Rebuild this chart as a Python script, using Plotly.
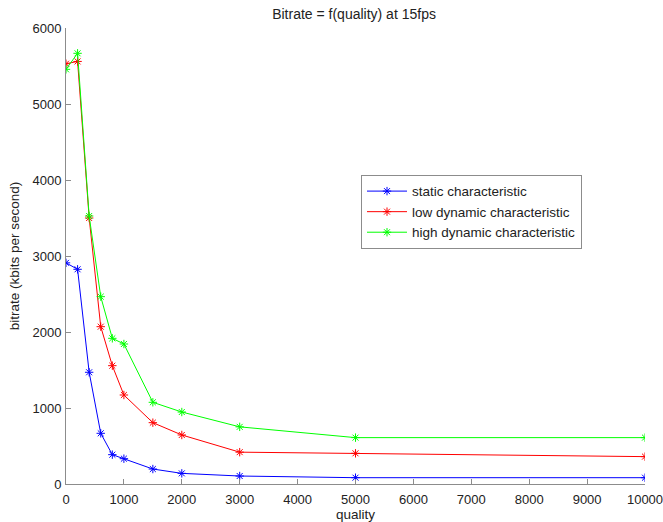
import plotly.graph_objects as go

# quality settings tested
quality = [0, 200, 400, 600, 800, 1000, 1500, 2000, 3000, 5000, 10000]

# measured bitrate (kbits per second) at 15 fps
static_rate = [2910, 2825, 1470, 667, 386, 333, 197, 140, 105, 83, 83]
low_dynamic_rate = [5530, 5560, 3500, 2070, 1557, 1171, 807, 645, 419, 404, 360]
high_dynamic_rate = [5456, 5667, 3526, 2465, 1917, 1842, 1075, 947, 752, 610, 610]

series = [
    ("static characteristic", static_rate, "#0000ff"),
    ("low dynamic characteristic", low_dynamic_rate, "#ff0000"),
    ("high dynamic characteristic", high_dynamic_rate, "#00ff00"),
]

x_ticks = list(range(0, 10001, 1000))
y_ticks = list(range(0, 6001, 1000))

fig = go.Figure()
for name, values, color in series:
    fig.add_trace(go.Scatter(
        x=quality, y=values, name=name, mode="lines+markers",
        line=dict(color=color, width=1),
        marker=dict(symbol="asterisk-open", size=7, color=color,
                    line=dict(color=color, width=1)),
    ))

font = "Liberation Sans, Arial, Helvetica, sans-serif"
text_color = "#222"
axis_common = dict(
    showline=True, linecolor="#8c8c8c", linewidth=1,
    ticks="inside", ticklen=5, tickcolor="#8c8c8c", tickwidth=1,
    showgrid=False, zeroline=False, tickformat="d",
    automargin=False, ticklabeloverflow="allow",
    tickfont=dict(family=font, size=13, color=text_color),
)

fig.update_layout(
    width=663, height=522,
    margin=dict(l=66, r=18, t=28, b=38),
    paper_bgcolor="white", plot_bgcolor="white",
    title=dict(text="Bitrate = f(quality) at 15fps", x=0.534, xanchor="center",
               y=0.973, yanchor="middle",
               font=dict(family=font, size=14, color=text_color)),
    xaxis=dict(range=[0, 10000], tickvals=x_ticks, ticklabelstandoff=3,
               title=dict(text="quality",
                          font=dict(family=font, size=13.5, color=text_color),
                          standoff=0),
               **axis_common),
    yaxis=dict(range=[0, 6000], tickvals=y_ticks, ticklabelstandoff=1,
               title=dict(text="bitrate (kbits per second)",
                          font=dict(family=font, size=13.5, color=text_color),
                          standoff=9),
               **axis_common),
    legend=dict(x=0.5095, y=0.678, xanchor="left", yanchor="top",
                bgcolor="white", bordercolor="#8c8c8c", borderwidth=1,
                font=dict(family=font, size=13.5, color=text_color),
                tracegroupgap=0, itemwidth=40),
    showlegend=True,
)

fig.write_html("out.html")
